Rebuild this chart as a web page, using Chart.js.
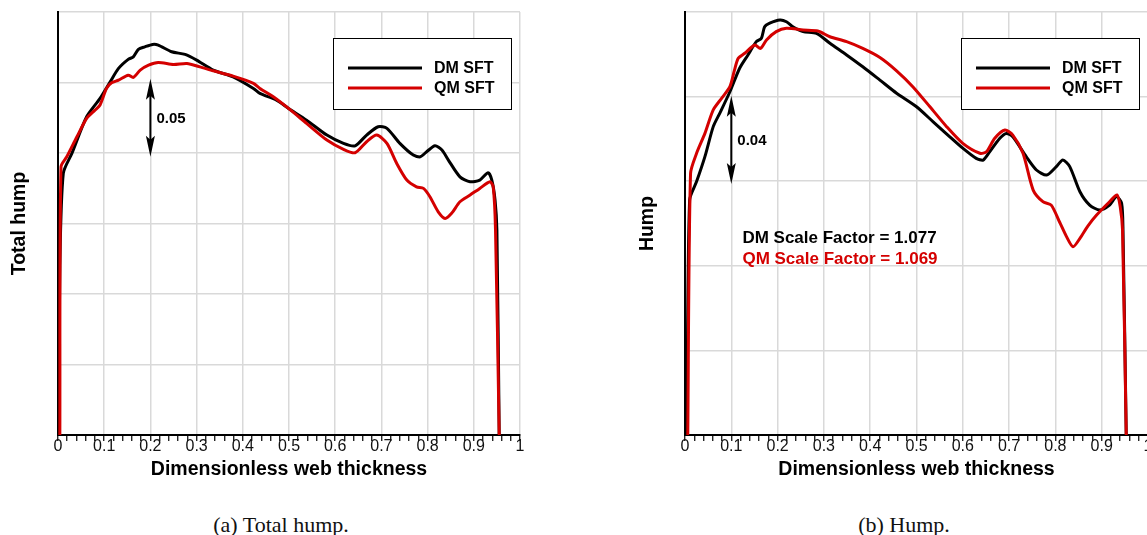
<!DOCTYPE html>
<html><head><meta charset="utf-8">
<script src="https://cdn.jsdelivr.net/npm/chart.js@4.4.1/dist/chart.umd.min.js"></script>
<style>
html,body{margin:0;padding:0;background:#fff;width:1147px;height:535px;overflow:hidden;position:relative}
canvas{position:absolute;top:0}
.cap{position:absolute;top:512px;width:200px;height:22px;line-height:22px;text-align:center;font:22px "Liberation Serif",serif;color:#111}
</style></head><body>
<canvas id="totalChart" width="560" height="490" style="left:0"></canvas>
<canvas id="humpChart" width="528" height="490" style="left:630px"></canvas>
<div class="cap" style="left:181px">(a) Total hump.</div>
<div class="cap" style="left:804px">(b) Hump.</div>
<script>
// (a) total hump
const totalDmX=[0.001,0.004,0.0115,0.030,0.062,0.091,0.113,0.131,0.152,0.163,0.174,0.188,0.205,0.217,0.246,0.275,0.300,0.336,0.379,0.423,0.437,0.473,0.499,0.538,0.582,0.618,0.643,0.668,0.693,0.712,0.740,0.769,0.784,0.798,0.816,0.831,0.845,0.870,0.892,0.913,0.931,0.939,0.946,0.950,0.955];
const totalDmY=[0,0.12,0.1856,0.1997,0.2257,0.2387,0.2505,0.2600,0.2664,0.2682,0.2735,0.2753,0.2770,0.2765,0.2718,0.2699,0.2659,0.2588,0.2540,0.2458,0.2423,0.2375,0.2316,0.2233,0.2127,0.2068,0.2051,0.2127,0.2186,0.2175,0.2068,0.1985,0.1973,0.2009,0.2051,0.2021,0.1950,0.1831,0.1796,0.1808,0.1860,0.1808,0.1666,0.1454,0];
const totalQmX=[0.004,0.0065,0.019,0.041,0.062,0.080,0.091,0.105,0.116,0.131,0.152,0.163,0.178,0.196,0.217,0.250,0.279,0.307,0.336,0.379,0.423,0.437,0.466,0.499,0.538,0.582,0.618,0.643,0.668,0.690,0.712,0.733,0.755,0.776,0.791,0.805,0.823,0.838,0.852,0.870,0.892,0.913,0.935,0.942,0.947,0.955];
const totalQmY=[0,0.1902,0.1973,0.2115,0.2245,0.2304,0.2340,0.2458,0.2498,0.2517,0.2552,0.2536,0.2588,0.2623,0.2642,0.2628,0.2635,0.2611,0.2583,0.2545,0.2494,0.2458,0.2399,0.2316,0.2210,0.2092,0.2026,0.2002,0.2080,0.2127,0.2068,0.1927,0.1808,0.1760,0.1749,0.1690,0.1583,0.1536,0.1572,0.1654,0.1702,0.1749,0.1796,0.1760,0.1454,0];

// (b) hump
const humpDmX=[0.004,0.010,0.025,0.043,0.061,0.075,0.097,0.118,0.136,0.154,0.165,0.172,0.183,0.205,0.219,0.233,0.255,0.284,0.313,0.349,0.384,0.421,0.457,0.500,0.536,0.572,0.600,0.629,0.644,0.658,0.680,0.694,0.708,0.737,0.759,0.781,0.802,0.816,0.831,0.853,0.874,0.896,0.917,0.932,0.943,0.946,0.953];
const humpDmY=[0,0.1111,0.1198,0.1316,0.1458,0.1521,0.1623,0.1734,0.1797,0.1860,0.1876,0.1930,0.1947,0.1962,0.1954,0.1930,0.1907,0.1899,0.1852,0.1797,0.1741,0.1678,0.1616,0.1552,0.1481,0.1410,0.1356,0.1308,0.1300,0.1339,0.1403,0.1426,0.1410,0.1316,0.1253,0.1229,0.1269,0.1300,0.1269,0.1150,0.1087,0.1064,0.1087,0.1127,0.1096,0.0969,0];
const humpQmX=[0.006,0.012,0.025,0.043,0.061,0.079,0.097,0.107,0.115,0.129,0.151,0.163,0.176,0.197,0.219,0.255,0.287,0.313,0.349,0.384,0.421,0.457,0.492,0.529,0.565,0.600,0.637,0.651,0.669,0.691,0.708,0.730,0.752,0.773,0.791,0.809,0.824,0.838,0.853,0.870,0.889,0.917,0.933,0.940,0.945,0.953];
const humpQmY=[0,0.1237,0.1332,0.1426,0.1537,0.1592,0.1647,0.1726,0.1781,0.1805,0.1844,0.1828,0.1868,0.1907,0.1923,0.1915,0.1910,0.1883,0.1860,0.1828,0.1785,0.1722,0.1647,0.1552,0.1458,0.1379,0.1332,0.1339,0.1403,0.1442,0.1418,0.1332,0.1158,0.1103,0.1087,0.1007,0.0938,0.0890,0.0930,0.0988,0.1040,0.1103,0.1135,0.1079,0.0969,0];

const seriesNames=['DM SFT','QM SFT'];
const seriesColors=['#000000','#d40000'];

const FONT='"Liberation Sans", Arial, Helvetica, sans-serif';
const isMajor=v=>Math.abs(v*10-Math.round(v*10))<1e-6;
const pts=(xs,ys)=>xs.map((x,i)=>({x,y:ys[i]}));

// legend box, double arrow and free text, all inside the plot area
const notesPlugin={id:'notes',afterDatasetsDraw(chart,args,o){
  const {ctx,chartArea:a,scales:{x,y}}=chart;
  ctx.save();
  const bx=a.right-187,by=a.top+26;
  ctx.fillStyle='#fff';ctx.fillRect(bx,by,178,71);
  ctx.strokeStyle='#000';ctx.lineWidth=1;ctx.strokeRect(bx+0.5,by+0.5,178,71);
  ctx.font='bold 16px '+FONT;ctx.textBaseline='middle';ctx.textAlign='left';
  chart.data.datasets.forEach((d,i)=>{
    const ly=by+30+i*20;
    ctx.strokeStyle=d.borderColor;ctx.lineWidth=3;
    ctx.beginPath();ctx.moveTo(bx+15,ly);ctx.lineTo(bx+89,ly);ctx.stroke();
    ctx.fillStyle='#000';ctx.fillText(d.label,bx+101,ly+1);
  });
  if(o.arrow){
    const ax=x.getPixelForValue(o.arrow.x),y0=y.getPixelForValue(o.arrow.top),y1=y.getPixelForValue(o.arrow.bottom);
    ctx.strokeStyle='#000';ctx.fillStyle='#000';ctx.lineWidth=2;
    ctx.beginPath();ctx.moveTo(ax,y0+15);ctx.lineTo(ax,y1-15);ctx.stroke();
    [[y0,1],[y1,-1]].forEach(([t,s])=>{
      ctx.beginPath();ctx.moveTo(ax,t);ctx.lineTo(ax-4.5,t+s*21);ctx.lineTo(ax,t+s*17);ctx.lineTo(ax+4.5,t+s*21);ctx.closePath();ctx.fill();
    });
    ctx.font='bold 15px '+FONT;
    ctx.fillText(o.arrow.label,ax+6,(y0+y1)/2+1);
  }
  (o.texts||[]).forEach(t=>{
    ctx.font='bold 17px '+FONT;ctx.fillStyle=t.color;
    ctx.fillText(t.text,x.getPixelForValue(t.x),y.getPixelForValue(t.y));
  });
  ctx.restore();
}};

function makeChart(id,cfg){
  const titleFont={family:FONT,size:19.5,weight:'bold'};
  return new Chart(document.getElementById(id),{type:'line',
    data:{datasets:[
      {label:seriesNames[0],data:pts(cfg.dmX,cfg.dmY),borderColor:seriesColors[0],order:1},
      {label:seriesNames[1],data:pts(cfg.qmX,cfg.qmY),borderColor:seriesColors[1],order:0}
    ].map(d=>Object.assign(d,{borderWidth:3,pointRadius:0,tension:0.25,fill:false}))},
    options:{responsive:false,animation:false,
      layout:{padding:{top:12,right:cfg.padR,bottom:0,left:0}},
      plugins:{legend:{display:false},tooltip:{enabled:false},notes:cfg.notes},
      scales:{
        x:{type:'linear',min:0,max:1,
          ticks:{stepSize:0.02,autoSkip:false,maxRotation:0,padding:-4,color:'#111',font:{family:FONT,size:16},
            callback:v=>isMajor(v)?String(+v.toFixed(1)):''},
          grid:{color:c=>c.tick&&isMajor(c.tick.value)?'#d9d9d9':'rgba(0,0,0,0)',lineWidth:1.5,tickColor:'#000',tickLength:6,tickWidth:1.2},
          border:{color:'#000',width:2},
          title:{display:true,text:'Dimensionless web thickness',color:'#000',font:titleFont,padding:{top:0,bottom:9}},
          afterFit:s=>{s.height=55}},
        y:{min:0,max:cfg.yMax,
          ticks:{display:false,stepSize:cfg.yStep},
          grid:{color:'#d9d9d9',lineWidth:1.5,drawTicks:false},
          border:{color:'#000',width:2},
          title:{display:true,text:cfg.yTitle,color:'#000',font:titleFont,padding:{top:cfg.titlePad,bottom:0}},
          afterFit:s=>{s.width=cfg.leftW}}
      }},
    plugins:[notesPlugin]});
}

makeChart('totalChart',{dmX:totalDmX,dmY:totalDmY,qmX:totalQmX,qmY:totalQmY,
  yMax:0.3,yStep:0.05,yTitle:'Total hump',leftW:58,padR:40,titlePad:8,
  notes:{arrow:{x:0.2,top:0.2527,bottom:0.1974,label:'0.05'}}});

makeChart('humpChart',{dmX:humpDmX,dmY:humpDmY,qmX:humpQmX,qmY:humpQmY,
  yMax:0.2,yStep:0.04,yTitle:'Hump',leftW:55,padR:10,titlePad:6,
  notes:{arrow:{x:0.1,top:0.1604,bottom:0.1187,label:'0.04'},
    texts:[{x:0.124,y:0.0930,text:'DM Scale Factor = 1.077',color:'#000'},
           {x:0.124,y:0.0831,text:'QM Scale Factor = 1.069',color:'#d40000'}]}});
</script>
</body></html>
